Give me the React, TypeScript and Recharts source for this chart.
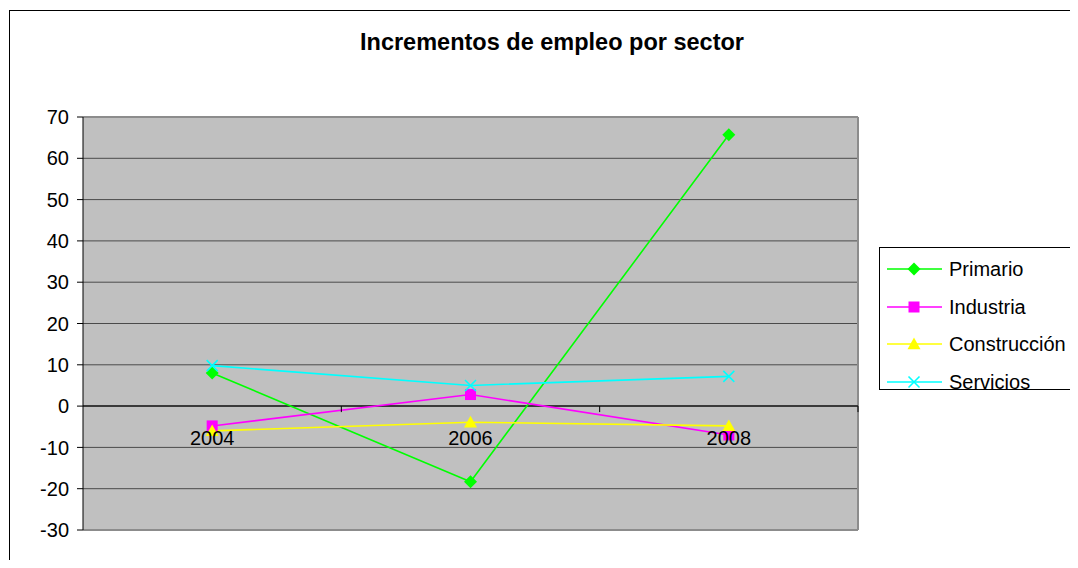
import { LineChart, Line, XAxis, YAxis, CartesianGrid, ReferenceLine, Legend } from 'recharts'

const years = ['2004', '2006', '2008']
const primario = [8, -18.3, 65.7]
const industria = [-4.8, 2.8, -7]
const construccion = [-6, -3.9, -4.8]
const servicios = [9.8, 5, 7.2]
const yTicks = [-30, -20, -10, 0, 10, 20, 30, 40, 50, 60, 70]

type Shape = 'diamond' | 'square' | 'triangle' | 'cross'

const series: { name: string; values: number[]; color: string; shape: Shape }[] = [
  { name: 'Primario', values: primario, color: '#00ff00', shape: 'diamond' },
  { name: 'Industria', values: industria, color: '#ff00ff', shape: 'square' },
  { name: 'Construcción', values: construccion, color: '#ffff00', shape: 'triangle' },
  { name: 'Servicios', values: servicios, color: '#00ffff', shape: 'cross' },
]

const data = years.map((year, i) => {
  const row: Record<string, string | number> = { year }
  series.forEach(s => { row[s.name] = s.values[i] })
  return row
})

const FONT = '"Liberation Sans", Arial, sans-serif'
const W = 1078
const H = 568
const PLOT_LEFT = 83
const PLOT_RIGHT = 858
const PLOT_TOP = 117
const PLOT_BOTTOM = 530
const Y_MIN = -30
const Y_MAX = 70
const BAND = (PLOT_RIGHT - PLOT_LEFT) / years.length
const ZERO_SHIFT = (PLOT_BOTTOM - PLOT_TOP) * (0 - Y_MIN) / (Y_MAX - Y_MIN)

function Marker({ cx, cy, shape, color }: { cx: number; cy: number; shape: Shape; color: string }) {
  if (cx == null || cy == null) return null
  if (shape === 'diamond') {
    const r = 6.5
    return <polygon points={`${cx},${cy - r} ${cx + r},${cy} ${cx},${cy + r} ${cx - r},${cy}`} fill={color} />
  }
  if (shape === 'square') {
    const r = 5.5
    return <rect x={cx - r} y={cy - r} width={r * 2} height={r * 2} fill={color} />
  }
  if (shape === 'triangle') {
    const r = 6.5
    return <polygon points={`${cx},${cy - r} ${cx + r},${cy + r * 0.8} ${cx - r},${cy + r * 0.8}`} fill={color} />
  }
  const r = 5.5
  return (
    <g stroke={color} strokeWidth={1.6}>
      <line x1={cx - r} y1={cy - r} x2={cx + r} y2={cy + r} />
      <line x1={cx - r} y1={cy + r} x2={cx + r} y2={cy - r} />
    </g>
  )
}

// year labels sit just under the zero line, like the Excel axis crossing at 0
function YearTick({ x, y, payload }: any) {
  const zeroY = y - ZERO_SHIFT
  return (
    <g>
      <line x1={x + BAND / 2} x2={x + BAND / 2} y1={zeroY} y2={zeroY + 6} stroke="#000" />
      <text x={x} y={zeroY + 38.5} textAnchor="middle" fontSize={20} fontFamily={FONT} fill="#000">
        {payload.value}
      </text>
    </g>
  )
}

function LegendBox() {
  return (
    <div style={{ border: '1px solid #000', background: '#fff', width: 220, height: 143, boxSizing: 'border-box', paddingTop: 2 }}>
      {series.map(s => (
        <div key={s.name} style={{ display: 'flex', alignItems: 'center', height: 37.8 }}>
          <svg width={56} height={20} style={{ marginLeft: 7 }}>
            <line x1={0} x2={55} y1={10} y2={10} stroke={s.color} strokeWidth={1.6} />
            <Marker cx={27} cy={10} shape={s.shape} color={s.color} />
          </svg>
          <span style={{ marginLeft: 6, fontSize: 20, fontFamily: FONT, color: '#000', lineHeight: 1 }}>{s.name}</span>
        </div>
      ))}
    </div>
  )
}

export default function App() {
  return (
    <div style={{ position: 'relative', width: W, height: H, margin: -8, overflow: 'hidden', background: '#fff', fontFamily: FONT }}>
      <div style={{ position: 'absolute', left: 9, top: 10, width: 1200, height: 700, border: '1px solid #000' }} />
      <div style={{ position: 'absolute', left: -1, top: -17, fontSize: 28, fontWeight: 'bold', lineHeight: 1, whiteSpace: 'nowrap', color: '#000' }}>
        Gráfico 12
      </div>
      <div style={{ position: 'absolute', left: 302, top: 31, width: 500, textAlign: 'center', fontSize: 23.5, fontWeight: 'bold', lineHeight: 1, whiteSpace: 'nowrap' }}>
        Incrementos de empleo por sector
      </div>
      <div style={{ position: 'absolute', left: 0, top: 0 }}>
        <LineChart width={W} height={H} data={data} margin={{ top: PLOT_TOP, right: W - PLOT_RIGHT, bottom: 8, left: PLOT_LEFT - 50 }}>
          <CartesianGrid vertical={false} fill="#c0c0c0" stroke="#4a4a4a" />
          <CartesianGrid
            fill="none"
            stroke="#8c8c8c"
            strokeWidth={2}
            horizontalCoordinatesGenerator={({ offset }: any) => [offset.top, offset.top + offset.height]}
            verticalCoordinatesGenerator={({ offset }: any) => [offset.left + offset.width]}
          />
          <XAxis
            dataKey="year"
            height={30}
            padding={{ left: BAND / 2, right: BAND / 2 }}
            axisLine={false}
            tickLine={false}
            tickSize={0}
            tickMargin={0}
            tick={<YearTick />}
            interval={0}
          />
          <YAxis
            width={50}
            domain={[Y_MIN, Y_MAX]}
            ticks={yTicks}
            interval={0}
            allowDataOverflow
            axisLine={{ stroke: '#000' }}
            tickLine={{ stroke: '#000' }}
            tickSize={6}
            tickMargin={8}
            tick={{ fill: '#000', fontSize: 20, fontFamily: FONT }}
          />
          <ReferenceLine y={0} stroke="#3a3a3a" strokeWidth={2} />
          <Legend
            layout="horizontal"
            verticalAlign="middle"
            align="center"
            wrapperStyle={{ left: 879, top: 247, width: 220 }}
            content={<LegendBox />}
          />
          {series.map(s => (
            <Line
              key={s.name}
              type="linear"
              dataKey={s.name}
              name={s.name}
              stroke={s.color}
              strokeWidth={1.6}
              isAnimationActive={false}
              activeDot={false}
              dot={(props: any) => <Marker key={`${s.name}-${props.index}`} cx={props.cx} cy={props.cy} shape={s.shape} color={s.color} />}
            />
          ))}
        </LineChart>
      </div>
    </div>
  )
}
